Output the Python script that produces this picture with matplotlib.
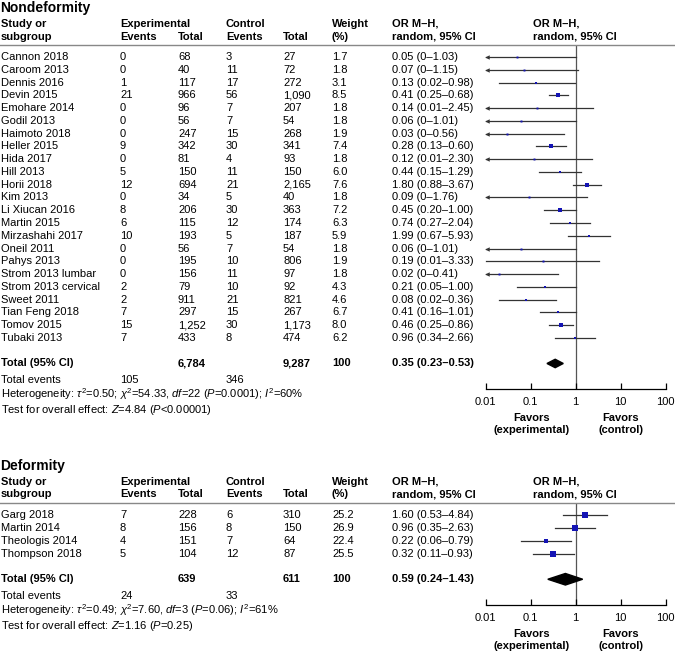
import numpy as np
import matplotlib
matplotlib.use('Agg')
import matplotlib.pyplot as plt
from matplotlib.transforms import blended_transform_factory
from matplotlib.patches import Polygon

plt.rcParams['font.family'] = ['Liberation Sans', 'DejaVu Sans']
plt.rcParams['mathtext.fontset'] = 'custom'
plt.rcParams['mathtext.rm'] = 'Liberation Sans'
plt.rcParams['mathtext.it'] = 'Liberation Sans:italic'
plt.rcParams['mathtext.bf'] = 'Liberation Sans:bold'

# --- Nondeformity ---
nd_studies = ["Cannon 2018", "Caroom 2013", "Dennis 2016", "Devin 2015", "Emohare 2014",
              "Godil 2013", "Haimoto 2018", "Heller 2015", "Hida 2017", "Hill 2013",
              "Horii 2018", "Kim 2013", "Li Xiucan 2016", "Martin 2015", "Mirzashahi 2017",
              "Oneil 2011", "Pahys 2013", "Strom 2013 lumbar", "Strom 2013 cervical",
              "Sweet 2011", "Tian Feng 2018", "Tomov 2015", "Tubaki 2013"]
nd_exp_events = [0, 0, 1, 21, 0, 0, 0, 9, 0, 5, 12, 0, 8, 6, 10, 0, 0, 0, 2, 2, 7, 15, 7]
nd_exp_total = [68, 40, 117, 966, 96, 56, 247, 342, 81, 150, 694, 34, 206, 115, 193,
                56, 195, 156, 79, 911, 297, 1252, 433]
nd_ctl_events = [3, 11, 17, 56, 7, 7, 15, 30, 4, 11, 21, 5, 30, 12, 5, 7, 10, 11, 10, 21, 15, 30, 8]
nd_ctl_total = [27, 72, 272, 1090, 207, 54, 268, 341, 93, 150, 2165, 40, 363, 174, 187,
                54, 806, 97, 92, 821, 267, 1173, 474]
nd_weight = [1.7, 1.8, 3.1, 8.5, 1.8, 1.8, 1.9, 7.4, 1.8, 6.0, 7.6, 1.8, 7.2, 6.3, 5.9,
             1.8, 1.9, 1.8, 4.3, 4.6, 6.7, 8.0, 6.2]
nd_or = [0.05, 0.07, 0.13, 0.41, 0.14, 0.06, 0.03, 0.28, 0.12, 0.44, 1.80, 0.09, 0.45,
         0.74, 1.99, 0.06, 0.19, 0.02, 0.21, 0.08, 0.41, 0.46, 0.96]
nd_lo = [0, 0, 0.02, 0.25, 0.01, 0, 0, 0.13, 0.01, 0.15, 0.88, 0, 0.20, 0.27, 0.67,
         0, 0.01, 0, 0.05, 0.02, 0.16, 0.25, 0.34]
nd_hi = [1.03, 1.15, 0.98, 0.68, 2.45, 1.01, 0.56, 0.60, 2.30, 1.29, 3.67, 1.76, 1.00,
         2.04, 5.93, 1.01, 3.33, 0.41, 1.00, 0.36, 1.01, 0.86, 2.66]
nd_arrow = [1, 1, 0, 0, 1, 1, 1, 0, 1, 0, 0, 1, 0, 0, 0, 1, 0, 1, 0, 0, 0, 0, 0]
nd_total = dict(exp_total=6784, ctl_total=9287, exp_events=105, ctl_events=346,
                est=0.35, lo=0.23, hi=0.53)
nd_het = r'Heterogeneity: $\tau^2$=0.50; $\chi^2$=54.33, $\it{df}$=22 ($\it{P}$=0.0001); $\it{I}^2$=60%'
nd_test = r'Test for overall effect: $\it{Z}$=4.84 ($\it{P}$<0.00001)'

# --- Deformity ---
d_studies = ["Garg 2018", "Martin 2014", "Theologis 2014", "Thompson 2018"]
d_exp_events = [7, 8, 4, 5]
d_exp_total = [228, 156, 151, 104]
d_ctl_events = [6, 8, 7, 12]
d_ctl_total = [310, 150, 64, 87]
d_weight = [25.2, 26.9, 22.4, 25.5]
d_or = [1.60, 0.96, 0.22, 0.32]
d_lo = [0.53, 0.35, 0.06, 0.11]
d_hi = [4.84, 2.63, 0.79, 0.93]
d_arrow = [0, 0, 0, 0]
d_total = dict(exp_total=639, ctl_total=611, exp_events=24, ctl_events=33,
               est=0.59, lo=0.24, hi=1.43)
d_het = r'Heterogeneity: $\tau^2$=0.49; $\chi^2$=7.60, $\it{df}$=3 ($\it{P}$=0.06); $\it{I}^2$=61%'
d_test = r'Test for overall effect: $\it{Z}$=1.16 ($\it{P}$=0.25)'

ticks = [0.01, 0.1, 1, 10, 100]
tick_labels = ["0.01", "0.1", "1", "10", "100"]

W, H = 675, 653
FS = 8
fig = plt.figure(figsize=(W / 100, H / 100), dpi=100)

# column x positions in pixels
cx = dict(study=1, ev1=120, tot1=178, ev2=226, tot2=283, wt=332, ortxt=392, plot=533)
ax_left, ax_right = 485.7, 665.7


def fmt_ci(est, lo, hi):
    l = '0' if lo == 0 else '{:.2f}'.format(lo)
    return '{:.2f} ({}\u2013{:.2f})'.format(est, l, hi)


def panel(title, row0, sp, studies, ee, et, ce, ct, wt, est, lo, hi, arrow, tot, het, test, dh):
    n = len(studies)
    ytot = n + 1
    top = row0 - 0.94 * sp
    bot = row0 + (ytot + 2.0) * sp
    ax = fig.add_axes([ax_left / W, 1 - bot / H, (ax_right - ax_left) / W, (bot - top) / H])
    ax.set_xscale('log')
    ax.set_xlim(0.01, 100)
    ax.set_ylim(ytot + 2.0, -0.94)
    for s in ['left', 'right', 'top']:
        ax.spines[s].set_visible(False)
    ax.spines['bottom'].set_linewidth(0.9)
    ax.set_yticks([])
    ax.set_xticks(ticks)
    ax.set_xticklabels(tick_labels)
    ax.minorticks_off()
    ax.tick_params(axis='x', direction='in', length=4, width=0.9, labelsize=FS, pad=6)
    ax.axvline(1, color='#555555', lw=0.9, zorder=1)

    tr = blended_transform_factory(fig.transFigure, ax.transData)

    def t(x, y, s, **kw):
        ax.text(x / W, y, s, transform=tr, fontsize=FS, va='center', ha='left', clip_on=False, **kw)

    ax.text(0, -3.85, title, transform=tr, fontsize=10, fontweight='bold', va='center', ha='left')
    t(cx['study'], -2.6, 'Study or', fontweight='bold')
    t(cx['study'], -1.6, 'subgroup', fontweight='bold')
    t(cx['ev1'], -2.6, 'Experimental', fontweight='bold')
    t(cx['ev1'], -1.6, 'Events', fontweight='bold')
    t(cx['tot1'], -1.6, 'Total', fontweight='bold')
    t(cx['ev2'], -2.6, 'Control', fontweight='bold')
    t(cx['ev2'], -1.6, 'Events', fontweight='bold')
    t(cx['tot2'], -1.6, 'Total', fontweight='bold')
    t(cx['wt'], -2.6, 'Weight', fontweight='bold')
    t(cx['wt'], -1.6, '(%)', fontweight='bold')
    for x in (cx['ortxt'], cx['plot']):
        t(x, -2.6, 'OR M\u2013H,', fontweight='bold')
        t(x, -1.6, 'random, 95% CI', fontweight='bold')
    ax.plot([0, 1], [-0.94, -0.94], transform=tr, color='#888888', lw=1.0, clip_on=False)

    for i in range(n):
        t(cx['study'], i, studies[i])
        t(cx['ev1'], i, str(ee[i]))
        t(cx['tot1'], i, '{:,}'.format(et[i]))
        t(cx['ev2'], i, str(ce[i]))
        t(cx['tot2'], i, '{:,}'.format(ct[i]))
        t(cx['wt'], i, '{:.1f}'.format(wt[i]))
        t(cx['ortxt'], i, fmt_ci(est[i], lo[i], hi[i]))
        x0 = max(lo[i], 0.01)
        ax.plot([x0, hi[i]], [i, i], color='#333333', lw=0.9, zorder=2, clip_on=False)
        if arrow[i]:
            ax.plot(0.0107, i, marker='<', ms=3.2, color='#333333', mew=0, clip_on=False, zorder=2)
        ax.plot(est[i], i, marker='s', ms=0.6 * np.sqrt(wt[i]) + 0.6, color='#1414b4',
                mew=0, zorder=3)

    t(cx['study'], ytot, 'Total (95% CI)', fontweight='bold')
    t(cx['tot1'], ytot, '{:,}'.format(tot['exp_total']), fontweight='bold')
    t(cx['tot2'], ytot, '{:,}'.format(tot['ctl_total']), fontweight='bold')
    t(cx['wt'], ytot, '100', fontweight='bold')
    t(cx['ortxt'], ytot, fmt_ci(tot['est'], tot['lo'], tot['hi']), fontweight='bold')
    ax.add_patch(Polygon([(tot['lo'], ytot), (tot['est'], ytot - dh), (tot['hi'], ytot),
                          (tot['est'], ytot + dh)], closed=True, color='black', zorder=3))

    t(cx['study'], ytot + 1.33, 'Total events')
    t(cx['ev1'], ytot + 1.33, str(tot['exp_events']))
    t(cx['ev2'], ytot + 1.33, str(tot['ctl_events']))
    t(cx['study'], ytot + 2.38, het)
    t(cx['study'], ytot + 3.62, test)

    for xc, (l1, l2) in ((0.105, ('Favors', '(experimental)')), (10, ('Favors', '(control)'))):
        ax.text(xc, ytot + 4.25, l1, fontsize=FS, fontweight='bold', ha='center', va='center',
                clip_on=False)
        ax.text(xc, ytot + 5.2, l2, fontsize=FS, fontweight='bold', ha='center', va='center',
                clip_on=False)
    return ax


panel('Nondeformity', 57, 12.77, nd_studies, nd_exp_events, nd_exp_total, nd_ctl_events,
      nd_ctl_total, nd_weight, nd_or, nd_lo, nd_hi, nd_arrow, nd_total, nd_het, nd_test, 0.33)
panel('Deformity', 515, 12.85, d_studies, d_exp_events, d_exp_total, d_ctl_events,
      d_ctl_total, d_weight, d_or, d_lo, d_hi, d_arrow, d_total, d_het, d_test, 0.45)

fig.savefig('out.png', dpi=100)
